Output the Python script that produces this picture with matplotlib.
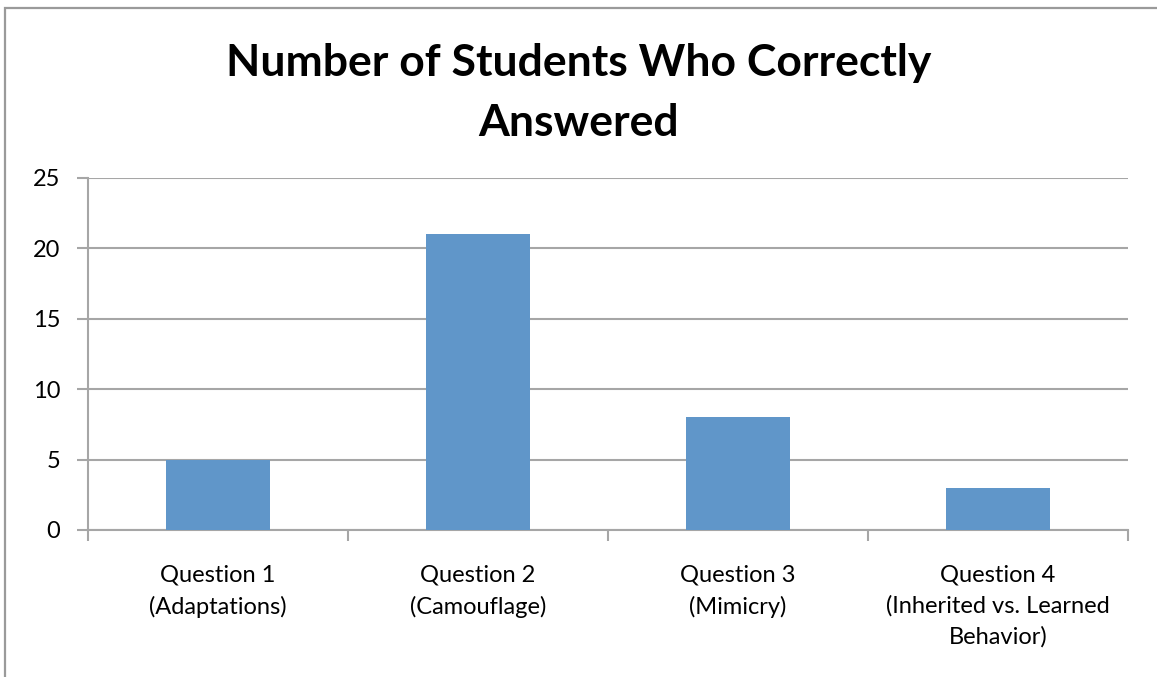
import matplotlib
matplotlib.use("Agg")
import matplotlib.pyplot as plt
from matplotlib.patches import Rectangle

categories = [
    "Question 1\n(Adaptations)",
    "Question 2\n(Camouflage)",
    "Question 3\n(Mimicry)",
    "Question 4\n(Inherited vs. Learned\nBehavior)",
]
counts = [5, 21, 8, 3]
y_ticks = [0, 5, 10, 15, 20, 25]

plt.rcParams["font.family"] = ["Lato", "DejaVu Sans"]

W, H = 1157, 677
fig = plt.figure(figsize=(W / 100, H / 100), dpi=100)

# outer chart frame (only left and top edges are inside the image)
fig.patches.append(Rectangle((5 / W, -0.5), 2.0, 0.5 + (1 - 8 / H), transform=fig.transFigure,
                             fill=False, edgecolor="#9a9a9a", linewidth=1.6))

ax = fig.add_axes([88 / W, 1 - 530 / H, (1128 - 88) / W, (530 - 178) / H])
x = list(range(len(categories)))
ax.bar(x, counts, width=0.4, color="#6096C9", zorder=3)

ax.set_xlim(-0.5, len(categories) - 0.5)
ax.set_ylim(0, 25)
ax.set_yticks(y_ticks)
ax.set_yticklabels([str(v) for v in y_ticks], fontsize=17)
ax.yaxis.grid(True, color="#a6a6a6", linewidth=1.5, zorder=0)

ax.set_xticks(x)
ax.set_xticklabels(categories, fontsize=17, linespacing=1.55)
ax.set_xticks([i - 0.5 for i in range(len(categories) + 1)], minor=True)
ax.tick_params(axis="x", which="major", length=0, pad=25)
ax.tick_params(axis="x", which="minor", length=8, width=1.5, color="#a6a6a6", direction="out")
ax.tick_params(axis="y", length=8, width=1.5, color="#a6a6a6", pad=12)

for s in ["top", "right"]:
    ax.spines[s].set_visible(False)
for s in ["left", "bottom"]:
    ax.spines[s].set_color("#a6a6a6")
    ax.spines[s].set_linewidth(1.5)
ax.spines["left"].set_bounds(0, 25)

fig.text(0.5, 1 - 93 / H, "Number of Students Who Correctly\nAnswered", ha="center", va="center",
         fontsize=32, fontweight="bold", linespacing=1.62)

fig.savefig("out.png", dpi=100)
